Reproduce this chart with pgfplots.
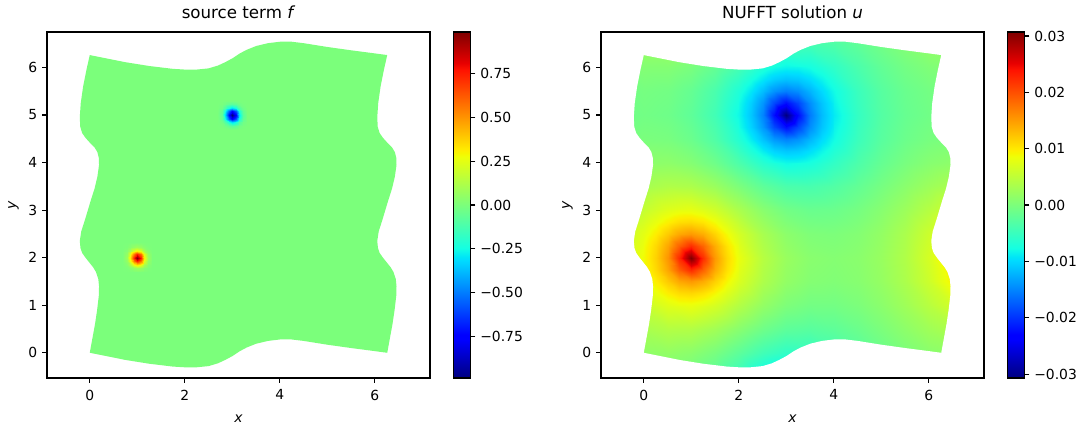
\documentclass[border=0pt]{standalone}
\usepackage{fontspec}
\setmainfont{DejaVu Sans}
\usepackage{pgfplots}
\usepackage{pgfplotstable}
\pgfplotsset{compat=1.18}

\pgfplotsset{colormap={mpljet}{rgb(0pt)=(0,0,0.5); rgb(110pt)=(0,0,1); rgb(125pt)=(0,0,1); rgb(340pt)=(0,0.86,1); rgb(350pt)=(0,0.9,0.968); rgb(375pt)=(0.081,1,0.887); rgb(640pt)=(0.935,1,0.032); rgb(650pt)=(0.968,0.963,0); rgb(660pt)=(1,0.926,0); rgb(890pt)=(1,0.074,0); rgb(910pt)=(0.909,0,0); rgb(1000pt)=(0.5,0,0)}}
\definecolor{jetmid}{rgb}{0.484,1,0.484}

% deformed domain boundary
\pgfplotstableread{
x y
0 0
0.25 -0.05
0.5 -0.1
0.75 -0.15
1 -0.19
1.25 -0.23
1.5 -0.26
1.75 -0.29
2 -0.305
2.25 -0.305
2.5 -0.28
2.7 -0.22
2.85 -0.15
3 -0.07
3.15 0.03
3.3 0.11
3.5 0.19
3.75 0.25
4 0.28
4.25 0.28
4.5 0.25
5 0.17
5.5 0.1
6 0.035
6.26 0
6.315 0.3
6.37 0.6
6.415 0.9
6.45 1.2
6.455 1.4
6.44 1.55
6.39 1.7
6.33 1.8
6.25 1.9
6.17 2
6.1 2.1
6.065 2.2
6.05 2.35
6.08 2.55
6.16 2.8
6.22 3
6.28 3.2
6.36 3.45
6.42 3.7
6.455 3.95
6.45 4.1
6.42 4.22
6.36 4.32
6.26 4.42
6.17 4.52
6.1 4.62
6.06 4.75
6.05 4.95
6.07 5.25
6.12 5.6
6.19 5.95
6.26 6.26
6 6.295
5.5 6.36
5 6.43
4.5 6.51
4.25 6.54
4 6.54
3.75 6.51
3.5 6.45
3.3 6.37
3.15 6.29
3 6.19
2.85 6.11
2.7 6.04
2.5 5.98
2.25 5.955
2 5.955
1.75 5.97
1.5 6
1.25 6.03
1 6.07
0.75 6.11
0.5 6.16
0.25 6.21
0 6.26
-0.07 5.95
-0.14 5.6
-0.19 5.25
-0.21 4.95
-0.2 4.75
-0.16 4.62
-0.09 4.52
0 4.42
0.1 4.32
0.16 4.22
0.19 4.1
0.195 3.95
0.16 3.7
0.1 3.45
0.02 3.2
-0.04 3
-0.1 2.8
-0.18 2.55
-0.21 2.35
-0.195 2.2
-0.16 2.1
-0.09 2
-0.01 1.9
0.07 1.8
0.13 1.7
0.18 1.55
0.195 1.4
0.19 1.2
0.155 0.9
0.11 0.6
0.055 0.3
0 0
}\domaintab

% white mask = big rectangle minus the domain (even-odd)
\pgfplotstableread{
x y
-2 -2
9 -2
9 9
-2 9
-2 -2
0 0
0.25 -0.05
0.5 -0.1
0.75 -0.15
1 -0.19
1.25 -0.23
1.5 -0.26
1.75 -0.29
2 -0.305
2.25 -0.305
2.5 -0.28
2.7 -0.22
2.85 -0.15
3 -0.07
3.15 0.03
3.3 0.11
3.5 0.19
3.75 0.25
4 0.28
4.25 0.28
4.5 0.25
5 0.17
5.5 0.1
6 0.035
6.26 0
6.315 0.3
6.37 0.6
6.415 0.9
6.45 1.2
6.455 1.4
6.44 1.55
6.39 1.7
6.33 1.8
6.25 1.9
6.17 2
6.1 2.1
6.065 2.2
6.05 2.35
6.08 2.55
6.16 2.8
6.22 3
6.28 3.2
6.36 3.45
6.42 3.7
6.455 3.95
6.45 4.1
6.42 4.22
6.36 4.32
6.26 4.42
6.17 4.52
6.1 4.62
6.06 4.75
6.05 4.95
6.07 5.25
6.12 5.6
6.19 5.95
6.26 6.26
6 6.295
5.5 6.36
5 6.43
4.5 6.51
4.25 6.54
4 6.54
3.75 6.51
3.5 6.45
3.3 6.37
3.15 6.29
3 6.19
2.85 6.11
2.7 6.04
2.5 5.98
2.25 5.955
2 5.955
1.75 5.97
1.5 6
1.25 6.03
1 6.07
0.75 6.11
0.5 6.16
0.25 6.21
0 6.26
-0.07 5.95
-0.14 5.6
-0.19 5.25
-0.21 4.95
-0.2 4.75
-0.16 4.62
-0.09 4.52
0 4.42
0.1 4.32
0.16 4.22
0.19 4.1
0.195 3.95
0.16 3.7
0.1 3.45
0.02 3.2
-0.04 3
-0.1 2.8
-0.18 2.55
-0.21 2.35
-0.195 2.2
-0.16 2.1
-0.09 2
-0.01 1.9
0.07 1.8
0.13 1.7
0.18 1.55
0.195 1.4
0.19 1.2
0.155 0.9
0.11 0.6
0.055 0.3
0 0
-2 -2
}\masktab

% source f: positive spot at (1,2)
\pgfplotstableread{
x y f
0.7 1.7 0.000
0.775 1.7 0.001
0.85 1.7 0.004
0.925 1.7 0.008
1 1.7 0.011
1.075 1.7 0.008
1.15 1.7 0.004
1.225 1.7 0.001
1.3 1.7 0.000
0.7 1.775 0.001
0.775 1.775 0.006
0.85 1.775 0.026
0.925 1.775 0.060
1 1.775 0.079
1.075 1.775 0.060
1.15 1.775 0.026
1.225 1.775 0.006
1.3 1.775 0.001
0.7 1.85 0.004
0.775 1.85 0.026
0.85 1.85 0.104
0.925 1.85 0.243
1 1.85 0.321
1.075 1.85 0.243
1.15 1.85 0.104
1.225 1.85 0.026
1.3 1.85 0.004
0.7 1.925 0.008
0.775 1.925 0.060
0.85 1.925 0.243
0.925 1.925 0.564
1 1.925 0.747
1.075 1.925 0.564
1.15 1.925 0.243
1.225 1.925 0.060
1.3 1.925 0.008
0.7 2 0.011
0.775 2 0.079
0.85 2 0.321
0.925 2 0.747
1 2 0.990
1.075 2 0.747
1.15 2 0.321
1.225 2 0.079
1.3 2 0.011
0.7 2.075 0.008
0.775 2.075 0.060
0.85 2.075 0.243
0.925 2.075 0.564
1 2.075 0.747
1.075 2.075 0.564
1.15 2.075 0.243
1.225 2.075 0.060
1.3 2.075 0.008
0.7 2.15 0.004
0.775 2.15 0.026
0.85 2.15 0.104
0.925 2.15 0.243
1 2.15 0.321
1.075 2.15 0.243
1.15 2.15 0.104
1.225 2.15 0.026
1.3 2.15 0.004
0.7 2.225 0.001
0.775 2.225 0.006
0.85 2.225 0.026
0.925 2.225 0.060
1 2.225 0.079
1.075 2.225 0.060
1.15 2.225 0.026
1.225 2.225 0.006
1.3 2.225 0.001
0.7 2.3 0.000
0.775 2.3 0.001
0.85 2.3 0.004
0.925 2.3 0.008
1 2.3 0.011
1.075 2.3 0.008
1.15 2.3 0.004
1.225 2.3 0.001
1.3 2.3 0.000
}\fpos

% source f: negative spot at (3,5)
\pgfplotstableread{
x y f
2.7 4.7 0.000
2.775 4.7 -0.001
2.85 4.7 -0.004
2.925 4.7 -0.008
3 4.7 -0.011
3.075 4.7 -0.008
3.15 4.7 -0.004
3.225 4.7 -0.001
3.3 4.7 0.000
2.7 4.775 -0.001
2.775 4.775 -0.006
2.85 4.775 -0.026
2.925 4.775 -0.060
3 4.775 -0.079
3.075 4.775 -0.060
3.15 4.775 -0.026
3.225 4.775 -0.006
3.3 4.775 -0.001
2.7 4.85 -0.004
2.775 4.85 -0.026
2.85 4.85 -0.104
2.925 4.85 -0.243
3 4.85 -0.321
3.075 4.85 -0.243
3.15 4.85 -0.104
3.225 4.85 -0.026
3.3 4.85 -0.004
2.7 4.925 -0.008
2.775 4.925 -0.060
2.85 4.925 -0.243
2.925 4.925 -0.564
3 4.925 -0.747
3.075 4.925 -0.564
3.15 4.925 -0.243
3.225 4.925 -0.060
3.3 4.925 -0.008
2.7 5 -0.011
2.775 5 -0.079
2.85 5 -0.321
2.925 5 -0.747
3 5 -0.990
3.075 5 -0.747
3.15 5 -0.321
3.225 5 -0.079
3.3 5 -0.011
2.7 5.075 -0.008
2.775 5.075 -0.060
2.85 5.075 -0.243
2.925 5.075 -0.564
3 5.075 -0.747
3.075 5.075 -0.564
3.15 5.075 -0.243
3.225 5.075 -0.060
3.3 5.075 -0.008
2.7 5.15 -0.004
2.775 5.15 -0.026
2.85 5.15 -0.104
2.925 5.15 -0.243
3 5.15 -0.321
3.075 5.15 -0.243
3.15 5.15 -0.104
3.225 5.15 -0.026
3.3 5.15 -0.004
2.7 5.225 -0.001
2.775 5.225 -0.006
2.85 5.225 -0.026
2.925 5.225 -0.060
3 5.225 -0.079
3.075 5.225 -0.060
3.15 5.225 -0.026
3.225 5.225 -0.006
3.3 5.225 -0.001
2.7 5.3 0.000
2.775 5.3 -0.001
2.85 5.3 -0.004
2.925 5.3 -0.008
3 5.3 -0.011
3.075 5.3 -0.008
3.15 5.3 -0.004
3.225 5.3 -0.001
3.3 5.3 0.000
}\fneg

% solution u, coarse grid (15 x 16)
\pgfplotstableread{
x y u
-0.5 -0.5 -0.00046
0 -0.5 0.00007
0.5 -0.5 -0.00004
1 -0.5 -0.00094
1.5 -0.5 -0.00274
2 -0.5 -0.00545
2.5 -0.5 -0.00874
3 -0.5 -0.01078
3.5 -0.5 -0.00943
4 -0.5 -0.00669
4.5 -0.5 -0.00425
5 -0.5 -0.00237
5.5 -0.5 -0.00100
6 -0.5 -0.00016
6.5 -0.5 0.00011
-0.5 0 0.00064
0 0 0.00143
0.5 0 0.00166
1 0 0.00111
1.5 0 -0.00029
2 0 -0.00233
2.5 0 -0.00443
3 0 -0.00568
3.5 0 -0.00551
4 0 -0.00431
4.5 0 -0.00278
5 0 -0.00129
5.5 0 0.00002
6 0 0.00104
6.5 0 0.00161
-0.5 0.5 0.00210
0 0.5 0.00334
0.5 0.5 0.00415
1 0.5 0.00406
1.5 0.5 0.00284
2 0.5 0.00092
2.5 0.5 -0.00099
3 0.5 -0.00227
3.5 0.5 -0.00264
4 0.5 -0.00220
4.5 0.5 -0.00125
5 0.5 -0.00002
5.5 0.5 0.00133
6 0.5 0.00267
6.5 0.5 0.00377
-0.5 1 0.00365
0 1 0.00566
0.5 1 0.00758
1 1 0.00827
1.5 1 0.00675
2 1 0.00414
2.5 1 0.00177
3 1 0.00016
3.5 1 -0.00060
4 1 -0.00059
4.5 1 0.00004
5 1 0.00114
5.5 1 0.00264
6 1 0.00449
6.5 1 0.00655
-0.5 1.5 0.00487
0 1.5 0.00789
0.5 1.5 0.01214
1 1.5 0.01535
1.5 1.5 0.01162
2 1.5 0.00696
2.5 1.5 0.00373
3 1.5 0.00171
3.5 1.5 0.00066
4 1.5 0.00041
4.5 1.5 0.00085
5 1.5 0.00190
5.5 1.5 0.00359
6 1.5 0.00604
6.5 1.5 0.00958
-0.5 2 0.00530
0 2 0.00891
0.5 2 0.01557
1 2 0.03070
1.5 2 0.01515
2 2 0.00815
2.5 2 0.00438
3 2 0.00216
3.5 2 0.00100
4 2 0.00068
4.5 2 0.00106
5 2 0.00211
5.5 2 0.00388
6 2 0.00665
6.5 2 0.01121
-0.5 2.5 0.00482
0 2.5 0.00786
0.5 2.5 0.01207
1 2.5 0.01521
1.5 2.5 0.01139
2 2.5 0.00662
2.5 2.5 0.00331
3 2.5 0.00126
3.5 2.5 0.00024
4 2.5 0.00008
4.5 2.5 0.00062
5 2.5 0.00177
5.5 2.5 0.00352
6 2.5 0.00601
6.5 2.5 0.00954
-0.5 3 0.00348
0 3 0.00550
0.5 3 0.00738
1 3 0.00797
1.5 3 0.00630
2 3 0.00352
2.5 3 0.00099
3 3 -0.00068
3.5 3 -0.00138
4 3 -0.00121
4.5 3 -0.00041
5 3 0.00084
5.5 3 0.00244
6 3 0.00434
6.5 3 0.00638
-0.5 3.5 0.00186
0 3.5 0.00312
0.5 3.5 0.00388
1 3.5 0.00365
1.5 3.5 0.00223
2 3.5 0.00000
2.5 3.5 -0.00223
3 3.5 -0.00365
3.5 3.5 -0.00388
4 3.5 -0.00312
4.5 3.5 -0.00186
5 3.5 -0.00042
5.5 3.5 0.00106
6 3.5 0.00245
6.5 3.5 0.00354
-0.5 4 0.00041
0 4 0.00121
0.5 4 0.00138
1 4 0.00068
1.5 4 -0.00099
2 4 -0.00352
2.5 4 -0.00630
3 4 -0.00797
3.5 4 -0.00738
4 4 -0.00550
4.5 4 -0.00348
5 4 -0.00171
5.5 4 -0.00026
6 4 0.00082
6.5 4 0.00137
-0.5 4.5 -0.00062
0 4.5 -0.00008
0.5 4.5 -0.00024
1 4.5 -0.00126
1.5 4.5 -0.00331
2 4.5 -0.00662
2.5 4.5 -0.01139
3 4.5 -0.01521
3.5 4.5 -0.01207
4 4.5 -0.00786
4.5 4.5 -0.00482
5 4.5 -0.00268
5.5 4.5 -0.00120
6 4.5 -0.00031
6.5 4.5 -0.00006
-0.5 5 -0.00106
0 5 -0.00068
0.5 5 -0.00100
1 5 -0.00216
1.5 5 -0.00438
2 5 -0.00815
2.5 5 -0.01515
3 5 -0.03070
3.5 5 -0.01557
4 5 -0.00891
4.5 5 -0.00530
5 5 -0.00302
5.5 5 -0.00157
6 5 -0.00081
6.5 5 -0.00073
-0.5 5.5 -0.00085
0 5.5 -0.00041
0.5 5.5 -0.00066
1 5.5 -0.00171
1.5 5.5 -0.00373
2 5.5 -0.00696
2.5 5.5 -0.01162
3 5.5 -0.01535
3.5 5.5 -0.01214
4 5.5 -0.00789
4.5 5.5 -0.00487
5 5.5 -0.00277
5.5 5.5 -0.00137
6 5.5 -0.00058
6.5 5.5 -0.00043
-0.5 6 -0.00004
0 6 0.00059
0.5 6 0.00060
1 6 -0.00016
1.5 6 -0.00177
2 6 -0.00414
2.5 6 -0.00675
3 6 -0.00827
3.5 6 -0.00758
4 6 -0.00566
4.5 6 -0.00365
5 6 -0.00194
5.5 6 -0.00061
6 6 0.00030
6.5 6 0.00068
-0.5 6.5 0.00125
0 6.5 0.00220
0.5 6.5 0.00264
1 6.5 0.00227
1.5 6.5 0.00099
2 6.5 -0.00092
2.5 6.5 -0.00284
3 6.5 -0.00406
3.5 6.5 -0.00415
4 6.5 -0.00334
4.5 6.5 -0.00210
5 6.5 -0.00074
5.5 6.5 0.00057
6 6.5 0.00171
6.5 6.5 0.00247
-0.5 7 0.00278
0 7 0.00431
0.5 7 0.00551
1 7 0.00568
1.5 7 0.00443
2 7 0.00233
2.5 7 0.00029
3 7 -0.00111
3.5 7 -0.00166
4 7 -0.00143
4.5 7 -0.00064
5 7 0.00052
5.5 7 0.00192
6 7 0.00345
6.5 7 0.00491
}\ucoarse

% solution u, fine patch around (1,2)
\pgfplotstableread{
x y u
0 1 0.00566
0.25 1 0.00668
0.5 1 0.00758
0.75 1 0.00818
1 1 0.00827
1.25 1 0.00775
1.5 1 0.00675
1.75 1 0.00547
2 1 0.00414
0 1.25 0.00684
0.25 1.25 0.00829
0.5 1.25 0.00973
0.75 1.25 0.01086
1 1.25 0.01122
1.25 1.25 0.01052
1.5 1.25 0.00907
1.75 1.25 0.00733
2 1.25 0.00565
0 1.5 0.00789
0.25 1.5 0.00987
0.5 1.5 0.01214
0.75 1.5 0.01436
1 1.5 0.01535
1.25 1.5 0.01409
1.5 1.5 0.01162
1.75 1.5 0.00911
2 1.5 0.00696
0 1.75 0.00862
0.25 1.75 0.01110
0.5 1.75 0.01445
0.75 1.75 0.01897
1 1.75 0.02238
1.25 1.75 0.01875
1.5 1.75 0.01404
1.75 1.75 0.01051
2 1.75 0.00788
0 2 0.00891
0.25 2 0.01163
0.5 2 0.01557
0.75 2 0.02248
1 2 0.03070
1.25 2 0.02226
1.5 2 0.01515
1.75 2 0.01101
2 2 0.00815
0 2.25 0.00866
0.25 2.25 0.01113
0.5 2.25 0.01446
0.75 2.25 0.01895
1 2.25 0.02233
1.25 2.25 0.01868
1.5 2.25 0.01392
1.75 2.25 0.01036
2 2.25 0.00769
0 2.5 0.00786
0.25 2.5 0.00982
0.5 2.5 0.01207
0.75 2.5 0.01426
1 2.5 0.01521
1.25 2.5 0.01391
1.5 2.5 0.01139
1.75 2.5 0.00883
2 2.5 0.00662
0 2.75 0.00674
0.25 2.75 0.00817
0.5 2.75 0.00959
0.75 2.75 0.01069
1 2.75 0.01100
1.25 2.75 0.01025
1.5 2.75 0.00873
1.75 2.75 0.00692
2 2.75 0.00517
0 3 0.00550
0.25 3 0.00651
0.5 3 0.00738
0.75 3 0.00794
1 3 0.00797
1.25 3 0.00739
1.5 3 0.00630
1.75 3 0.00494
2 3 0.00352
}\ufineA

% solution u, fine patch around (3,5)
\pgfplotstableread{
x y u
2 4 -0.00352
2.25 4 -0.00494
2.5 4 -0.00630
2.75 4 -0.00739
3 4 -0.00797
3.25 4 -0.00794
3.5 4 -0.00738
3.75 4 -0.00651
4 4 -0.00550
2 4.25 -0.00517
2.25 4.25 -0.00692
2.5 4.25 -0.00873
2.75 4.25 -0.01025
3 4.25 -0.01100
3.25 4.25 -0.01069
3.5 4.25 -0.00959
3.75 4.25 -0.00817
4 4.25 -0.00674
2 4.5 -0.00662
2.25 4.5 -0.00883
2.5 4.5 -0.01139
2.75 4.5 -0.01391
3 4.5 -0.01521
3.25 4.5 -0.01426
3.5 4.5 -0.01207
3.75 4.5 -0.00982
4 4.5 -0.00786
2 4.75 -0.00769
2.25 4.75 -0.01036
2.5 4.75 -0.01392
2.75 4.75 -0.01868
3 4.75 -0.02233
3.25 4.75 -0.01895
3.5 4.75 -0.01446
3.75 4.75 -0.01113
4 4.75 -0.00866
2 5 -0.00815
2.25 5 -0.01101
2.5 5 -0.01515
2.75 5 -0.02226
3 5 -0.03070
3.25 5 -0.02248
3.5 5 -0.01557
3.75 5 -0.01163
4 5 -0.00891
2 5.25 -0.00788
2.25 5.25 -0.01051
2.5 5.25 -0.01404
2.75 5.25 -0.01875
3 5.25 -0.02238
3.25 5.25 -0.01897
3.5 5.25 -0.01445
3.75 5.25 -0.01110
4 5.25 -0.00862
2 5.5 -0.00696
2.25 5.5 -0.00911
2.5 5.5 -0.01162
2.75 5.5 -0.01409
3 5.5 -0.01535
3.25 5.5 -0.01436
3.5 5.5 -0.01214
3.75 5.5 -0.00987
4 5.5 -0.00789
2 5.75 -0.00565
2.25 5.75 -0.00733
2.5 5.75 -0.00907
2.75 5.75 -0.01052
3 5.75 -0.01122
3.25 5.75 -0.01086
3.5 5.75 -0.00973
3.75 5.75 -0.00829
4 5.75 -0.00684
2 6 -0.00414
2.25 6 -0.00547
2.5 6 -0.00675
2.75 6 -0.00775
3 6 -0.00827
3.25 6 -0.00818
3.5 6 -0.00758
3.75 6 -0.00668
4 6 -0.00566
}\ufineB

\pgfplotsset{
  panel/.style={
    scale only axis, width=275.76pt, height=249.12pt,
    xmin=-0.9, xmax=7.16, ymin=-0.53, ymax=6.745,
    axis on top, tick align=outside, xtick pos=bottom, ytick pos=left,
    major tick length=3.5pt,
    every tick/.style={black, line width=0.8pt},
    axis line style={line width=0.8pt},
    xtick={0,2,4,6}, xticklabels={0,2,4,6},
    ytick={0,1,2,3,4,5,6}, yticklabels={0,1,2,3,4,5,6},
    ticklabel style={font=\fontsize{10}{12}\selectfont},
    xticklabel style={yshift=-1.5pt},
    label style={font=\fontsize{10}{12}\selectfont},
    xlabel style={yshift=-3.5pt},
    title style={font=\fontsize{12}{14}\selectfont},
    xlabel={\textit{x}}, ylabel={\textit{y}},
    colormap name=mpljet,
    colorbar,
    colorbar style={
      at={(parent axis.south east)}, anchor=south west, xshift=8.06pt,
      scale only axis, width=12.6pt, height=249.12pt,
      tick align=outside, ytick pos=right, yticklabel pos=right,
      major tick length=3.5pt,
      every tick/.style={black, line width=0.8pt},
      axis line style={line width=0.8pt},
      scaled y ticks=false,
      yticklabel style={font=\fontsize{10}{12}\selectfont},
    },
  }
}

\begin{document}
\begin{tikzpicture}
\begin{axis}[panel, at={(33.84pt,33.84pt)}, anchor=south west,
  title={source term \textit{f}},
  point meta min=-0.99, point meta max=0.99,
  colorbar style={ytick={-0.75,-0.5,-0.25,0,0.25,0.5,0.75},
    yticklabels={−0.75,−0.50,−0.25,0.00,0.25,0.50,0.75}}]
  \addplot[fill=jetmid, draw=none] table[x=x,y=y] {\domaintab};
  \addplot[surf, shader=interp, point meta=explicit, mesh/rows=9, mesh/cols=9] table[x=x,y=y,meta=f] {\fpos};
  \addplot[surf, shader=interp, point meta=explicit, mesh/rows=9, mesh/cols=9] table[x=x,y=y,meta=f] {\fneg};
\end{axis}
\begin{axis}[panel, at={(432.72pt,33.84pt)}, anchor=south west,
  title={NUFFT solution \textit{u}},
  point meta min=-0.0307, point meta max=0.0307,
  colorbar style={ytick={-0.03,-0.02,-0.01,0,0.01,0.02,0.03},
    yticklabels={−0.03,−0.02,−0.01,0.00,0.01,0.02,0.03}}]
  \addplot[surf, shader=interp, point meta=explicit, mesh/rows=16, mesh/cols=15] table[x=x,y=y,meta=u] {\ucoarse};
  \addplot[surf, shader=interp, point meta=explicit, mesh/rows=9, mesh/cols=9] table[x=x,y=y,meta=u] {\ufineA};
  \addplot[surf, shader=interp, point meta=explicit, mesh/rows=9, mesh/cols=9] table[x=x,y=y,meta=u] {\ufineB};
  \addplot[fill=white, draw=none, even odd rule] table[x=x,y=y] {\masktab};
\end{axis}
\pgfresetboundingbox
\path[use as bounding box] (0,0) rectangle (780.48pt,306pt);
\end{tikzpicture}
\end{document}
